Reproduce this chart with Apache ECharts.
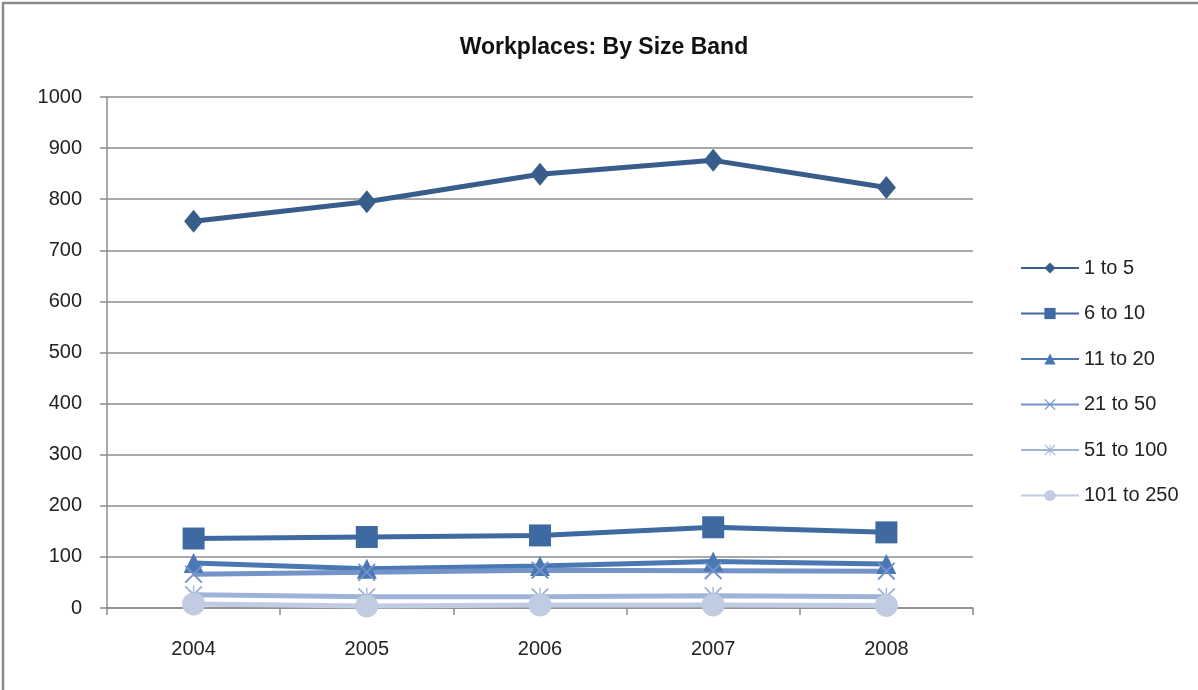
<!DOCTYPE html>
<html>
<head>
<meta charset="utf-8">
<script src="https://cdn.jsdelivr.net/npm/echarts@6/dist/echarts.min.js"></script>
<style>
  html, body { margin: 0; padding: 0; background: #fff; }
  #chart { width: 1198px; height: 690px; }
</style>
</head>
<body>
<div id="chart"></div>
<script>
// Workplace counts per year, split by employee size band
const years = ['2004', '2005', '2006', '2007', '2008'];
const band1to5 = [757, 795, 849, 876, 823];
const band6to10 = [136, 139, 142, 158, 148];
const band11to20 = [88, 77, 82, 91, 86];
const band21to50 = [66, 70, 74, 73, 72];
const band51to100 = [26, 22, 22, 24, 22];
const band101to250 = [8, 4, 6, 6, 5];
const yTicks = [0, 100, 200, 300, 400, 500, 600, 700, 800, 900, 1000];

const cross = 'path://M0 1.5L1.5 0L20 18.5L18.5 20Z M18.5 0L20 1.5L1.5 20L0 18.5Z';
const star = cross + ' M9.25 0H10.75V20H9.25Z';

const bands = [
  { name: '1 to 5', data: band1to5, color: '#385d8a', symbol: 'diamond', size: [19, 23] },
  { name: '6 to 10', data: band6to10, color: '#3f6aa1', symbol: 'rect', size: 22 },
  { name: '11 to 20', data: band11to20, color: '#4a78b4', symbol: 'triangle', size: 20 },
  { name: '21 to 50', data: band21to50, color: '#7393c9', symbol: cross, size: 18 },
  { name: '51 to 100', data: band51to100, color: '#9fb3d9', symbol: star, size: 18 },
  { name: '101 to 250', data: band101to250, color: '#bfcce2', symbol: 'circle', size: 23 }
];

const font = '"Liberation Sans", Arial, sans-serif';
const chart = echarts.init(document.getElementById('chart'), null, { renderer: 'canvas' });

chart.setOption({
  animation: false,
  backgroundColor: '#ffffff',
  title: {
    text: 'Workplaces: By Size Band',
    left: 599,
    top: 31,
    textAlign: 'center',
    textStyle: { fontFamily: font, fontSize: 23, fontWeight: 'bold', color: '#111' }
  },
  graphic: [{
    type: 'rect',
    shape: { x: 3, y: 3, width: 1300, height: 800 },
    style: { fill: 'none', stroke: '#8a8a8a', lineWidth: 2.5 },
    silent: true
  }],
  legend: {
    orient: 'vertical',
    left: 1020,
    top: 258,
    padding: 0,
    itemWidth: 58,
    itemHeight: 14,
    itemGap: 25.5,
    textStyle: { fontFamily: font, fontSize: 20, color: '#222' },
    data: bands.map(b => b.name)
  },
  grid: { left: 107, right: 225, top: 97, bottom: 82, containLabel: false },
  xAxis: {
    type: 'category',
    data: years,
    boundaryGap: true,
    axisLine: { lineStyle: { color: '#8c8c8c', width: 1.5 } },
    axisTick: { show: true, length: 7, lineStyle: { color: '#8c8c8c', width: 1.5 } },
    axisLabel: { fontFamily: font, fontSize: 20, color: '#222', margin: 31 }
  },
  yAxis: {
    type: 'value',
    min: yTicks[0],
    max: yTicks[yTicks.length - 1],
    interval: yTicks[1] - yTicks[0],
    axisLine: { show: true, lineStyle: { color: '#8c8c8c', width: 1.5 } },
    axisTick: { show: true, length: 7, lineStyle: { color: '#8c8c8c', width: 1.5 } },
    splitLine: { lineStyle: { color: '#8c8c8c', width: 1.5 } },
    axisLabel: { fontFamily: font, fontSize: 20, color: '#222', margin: 25, formatter: v => String(v) }
  },
  series: bands.map(b => ({
    name: b.name,
    type: 'line',
    data: b.data,
    symbol: b.symbol,
    symbolSize: b.size,
    showAllSymbol: true,
    color: b.color,
    lineStyle: { color: b.color, width: 5 },
    itemStyle: { color: b.color },
    emphasis: { disabled: true }
  }))
});
</script>
</body>
</html>
